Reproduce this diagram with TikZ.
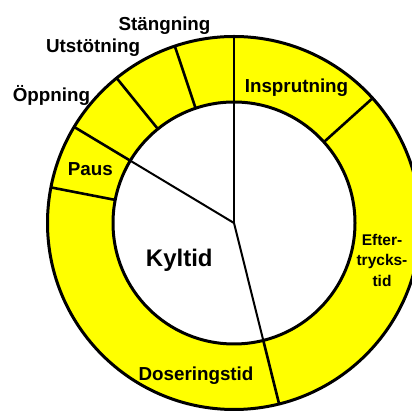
\documentclass[tikz,border=0pt]{standalone}
\usepackage{fontspec}
\setmainfont{Liberation Sans}
\definecolor{ringyellow}{RGB}{255,255,0}
\begin{document}
\begin{tikzpicture}[x=1pt,y=1pt,
  lbl/.style={font=\bfseries\fontsize{18.8}{22}\selectfont, anchor=base, inner sep=0pt},
  bound/.style={line width=2.6pt},
  spoke/.style={line width=2pt},
  rim/.style={line width=3pt}]
\useasboundingbox (0,0) rectangle (412,411);
\coordinate (c) at (234,188);
\begin{scope}
\clip (0,0) rectangle (412,411);
\fill[ringyellow, even odd rule] (c) circle[radius=186.5] (c) circle[radius=121];
\begin{scope}[shift={(c)}]
\foreach \a in {90,42,-76,169,149,129,108.5}
  \draw[bound] (\a:121) -- (\a:186.5);
\foreach \a in {90,149,-76}
  \draw[spoke] (0,0) -- (\a:121);
\end{scope}
\draw[rim] (c) circle[radius=186.5];
\draw[rim] (c) circle[radius=121];
\end{scope}
\node[lbl] (st) at (164.5,380) {Stängning};
\node[lbl] (ut) at (93,358) {Utstötning};
\node[lbl] (op) at (51.5,309.5) {Öppning};
\node[lbl] (in) at (296.5,318) {Insprutning};
\node[lbl] (pa) at (90.3,235) {Paus};
\node[lbl, font=\bfseries\fontsize{24}{28}\selectfont] (ky) at (179.3,144.3) {Kyltid};
\node[lbl] (do) at (196,30) {Doseringstid};
\node[lbl, align=center, font=\bfseries\fontsize{15.5}{20.7}\selectfont] (ef) at (382,124.3) {Efter-\\trycks-\\tid};
\end{tikzpicture}
\end{document}
